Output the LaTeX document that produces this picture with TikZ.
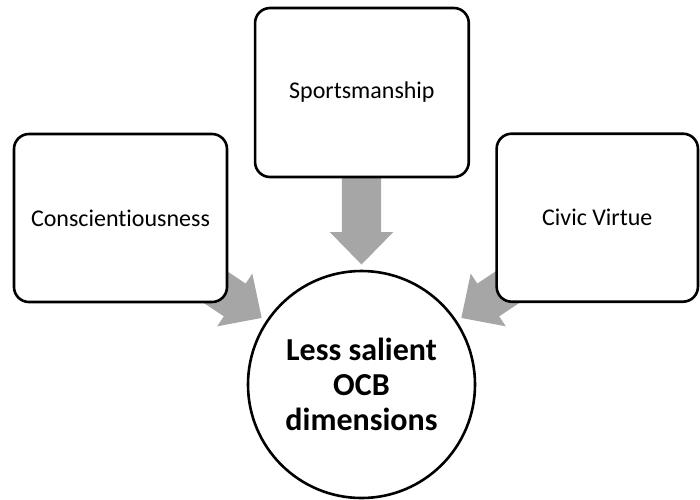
\documentclass[tikz,border=0pt]{standalone}
\usepackage{fontspec}
\setmainfont{Carlito}[Ligatures={NoCommon,NoRare,NoContextual}]
\usetikzlibrary{calc}
\definecolor{arrowgray}{RGB}{166,166,166}
\newcommand\blockarrow[2]{%
  \fill[arrowgray, shift={(#1)}, rotate=#2]
    (0,0) -- (-32.4,31.7) -- (-32.4,19.7) -- (-150,19.7) -- (-150,-19.7)
    -- (-32.4,-19.7) -- (-32.4,-31.7) -- cycle;}
\begin{document}
\begin{tikzpicture}[x=1pt,y=-1pt,
  box/.style={draw=black, line width=2.6pt, rounded corners=15pt, fill=white,
    minimum height=168pt, inner sep=0pt, font=\fontsize{24}{28}\selectfont},
  hub/.style={circle, draw=black, line width=2.6pt, fill=white,
    minimum size=227pt, inner sep=0pt, align=center,
    font=\bfseries\fontsize{32}{35}\selectfont}]
\useasboundingbox (0,0) rectangle (700,499);
\node[hub] (hub) at (361.5,384.5) {Less salient\\OCB\\dimensions};
\coordinate (tipL) at ($(hub.center)+(213.7:120)$);
\coordinate (tipD) at ($(hub.center)+(270:120)$);
\coordinate (tipR) at ($(hub.center)+(326.3:120)$);
\blockarrow{tipL}{-33.7}
\blockarrow{tipD}{-90}
\blockarrow{tipR}{-146.3}
\node[box, minimum width=213.7pt, minimum height=169pt] (sport) at (361.9,92.5) {Sportsmanship};
\node[box, minimum width=213pt] (consc) at (120.5,218) {Conscientiousness};
\node[box, minimum width=201.3pt] (civic) at (597.3,217.7) {Civic Virtue};
\end{tikzpicture}
\end{document}
